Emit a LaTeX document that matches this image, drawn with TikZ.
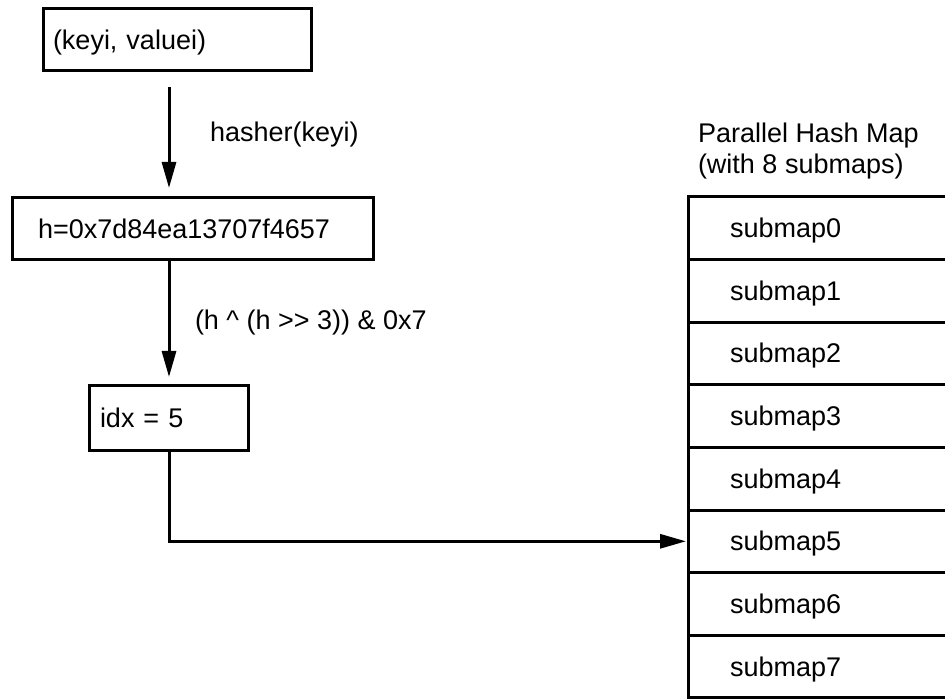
\documentclass[tikz,border=0pt]{standalone}
\usepackage{fontspec}
\setmainfont{Liberation Sans}
\usetikzlibrary{arrows.meta,positioning}

\begin{document}
\begin{tikzpicture}[x=1pt, y=-1pt, ->, >={Triangle[length=26pt,width=14pt]}, line width=3pt,
	font=\fontsize{27}{31}\selectfont]
	\tikzstyle{every node}=[inner sep=0pt, outer sep=0pt]
	\tikzstyle{box}=[draw, rectangle, anchor=north west, minimum height=62pt, align=left, text height=19pt, text depth=0pt]
	\tikzstyle{submapbox}=[box, minimum height=62.6pt, inner xsep=42pt, text width=230pt]
	\useasboundingbox (0,0) rectangle (945,700);
	\coordinate (AX) at (169,0);
	\node[box, inner xsep=10pt, text width=248pt] (PAIR) at (43,9) {(keyi, valuei)};
	\node[box, inner xsep=26pt, text width=309pt] (HASH) at (12,198) {h=0x7d84ea13707f4657};
	\node[box, inner xsep=11pt, text width=137pt, minimum height=64pt] (IDX) at (89,386) {idx = 5};
	\node[anchor=west, align=left] (TITLE) at (698,151) {Parallel Hash Map\\(with 8 submaps)};
	\foreach \i in {0,...,7}
		\node[submapbox] (SUB\i) at (688,{197+62.6*\i}) {submap\i};
	\draw[shorten <=16pt, shorten >=10pt] (PAIR.south -| AX) -- (HASH.north -| AX)
		node[midway, right, xshift=41pt] {hasher(keyi)};
	\draw[shorten >=9pt] (HASH.south -| AX) -- (IDX.north -| AX)
		node[midway, right, xshift=26pt] {(h \^{} (h >{}> 3)) \& 0x7};
	\draw[shorten >=2pt] (IDX.south -| AX) |- (SUB5.west);
\end{tikzpicture}
\end{document}
